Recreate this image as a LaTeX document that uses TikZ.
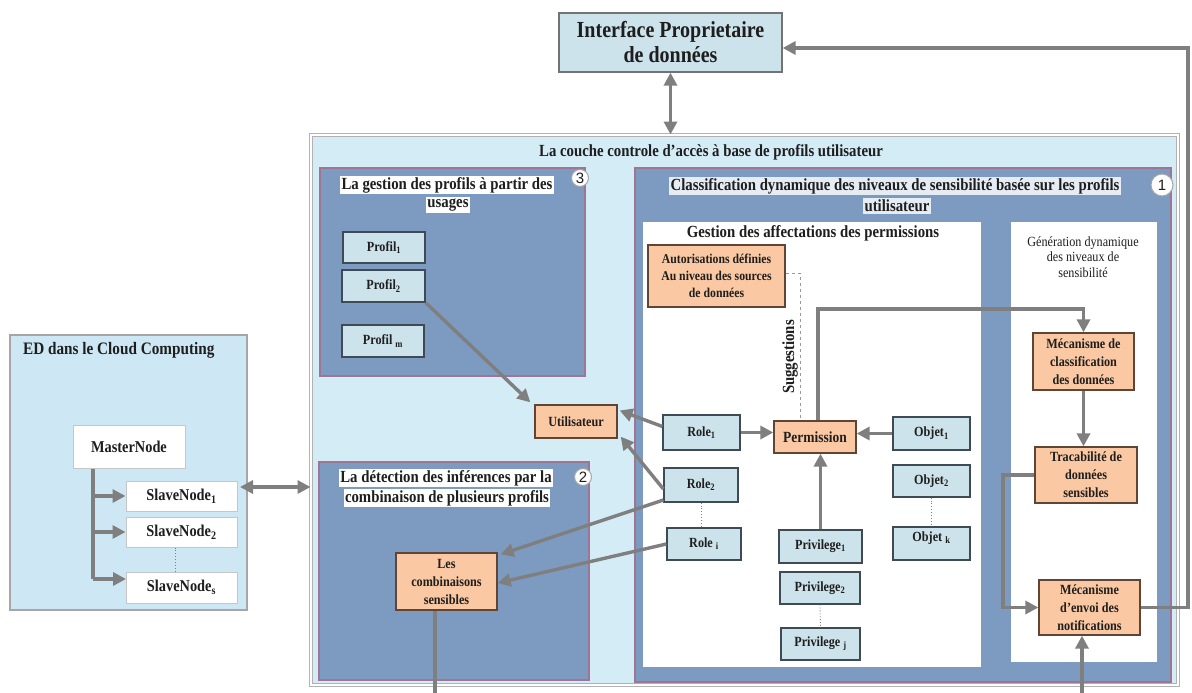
\documentclass[tikz,border=0pt]{standalone}
\usepackage{fontspec}
\setmainfont{Liberation Serif}[FakeStretch=0.87]
\newfontfamily\numfont{Liberation Sans}
\usetikzlibrary{arrows.meta,calc}
\definecolor{outerfill}{HTML}{D3ECF6}
\definecolor{edfill}{HTML}{CDE8F4}
\definecolor{panelfill}{HTML}{7D9BC1}
\definecolor{panelborder}{HTML}{9E7592}
\definecolor{lbfill}{HTML}{CDE3EB}
\definecolor{lbdraw}{HTML}{3E4B55}
\definecolor{obfill}{HTML}{FAC8A2}
\definecolor{obdraw}{HTML}{5E4535}
\definecolor{arrgray}{HTML}{7F7F7F}
\definecolor{hlgray}{HTML}{E6ECF3}
\definecolor{txt}{HTML}{1E1E1E}
\begin{document}
\begin{tikzpicture}[x=1pt,y=-1pt,
  lbox/.style={draw=lbdraw, fill=lbfill, line width=1.3pt, inner sep=0pt, text=txt, font=\bfseries\fontsize{14}{16}\selectfont},
  obox/.style={draw=obdraw, fill=obfill, line width=1.3pt, inner sep=0pt, align=center, text=txt, font=\bfseries\fontsize{14}{18}\selectfont},
  wbox/.style={draw=gray!45, fill=white, line width=1pt, inner sep=0pt, text=txt, font=\bfseries\fontsize{16.5}{18}\selectfont},
  panel/.style={draw=panelborder, fill=panelfill, line width=1.5pt, inner sep=0pt},
  wpanel/.style={fill=white, draw=none, inner sep=0pt},
  arr/.style={draw=arrgray, line width=3.4pt, -{Triangle[length=13pt,width=13pt]}},
  darr/.style={draw=arrgray, line width=3.4pt, {Triangle[length=13pt,width=13pt]}-{Triangle[length=13pt,width=13pt]}},
  conn/.style={draw=arrgray, line width=3.4pt},
  dots/.style={draw=gray, line width=0.9pt, dotted},
  circ/.style={circle, draw=gray!70, fill=white, line width=1pt, inner sep=0pt, text=txt, font=\numfont\fontsize{15}{15}\selectfont},
  hl/.style={fill=white, inner sep=1.5pt, text=txt, font=\bfseries\fontsize{17}{19}\selectfont},
  title/.style={inner sep=0pt, text=txt, font=\bfseries\fontsize{17}{19}\selectfont}]
\useasboundingbox (0,0) rectangle (1192,693);

% top interface
\node[draw=gray!90!black, fill=lbfill, line width=1.3pt, minimum width=223, minimum height=59, align=center, inner sep=0pt, text=txt,
      font=\bfseries\fontsize{23}{25}\selectfont] (iface) at (670.5,42.5) {Interface Proprietaire\\de donn\'ees};

% outer layer
\node[draw=gray!60, double=white, double distance=1.5pt, line width=1pt, fill=outerfill, minimum width=867, minimum height=550, inner sep=0pt] (outer) at (744.5,410) {};
\node[title] (outt) at (711,152) {La couche controle d'acc\`es \`a base de profils utilisateur};

% ED box
\node[draw=gray!70, fill=edfill, line width=1.2pt, minimum width=237, minimum height=275, inner sep=0pt] (ed) at (128.5,472.5) {};
\node[title, anchor=west, font=\bfseries\fontsize{17.5}{19}\selectfont] (edt) at (23,350) {ED dans le Cloud Computing};
\node[wbox, minimum width=112, minimum height=43] (master) at (129,446.5) {MasterNode};
\node[wbox, minimum width=111, minimum height=30] (s1) at (181.5,496) {SlaveNode\textsubscript{1}};
\node[wbox, minimum width=111, minimum height=30] (s2) at (181.5,532) {SlaveNode\textsubscript{2}};
\node[wbox, minimum width=111, minimum height=31] (ss) at (181.5,587.5) {SlaveNode\textsubscript{s}};

% box 3
\node[panel, minimum width=265, minimum height=208] (box3) at (452.5,272) {};
\node[hl] (b3t1) at (447,185) {La gestion des profils \`a partir des};
\node[hl] (b3t2) at (448,205) {usages};
\node[circ, minimum size=17] (c3) at (580,178) {3};
\node[lbox, minimum width=82, minimum height=31] (p1) at (384,247.5) {Profil\textsubscript{1}};
\node[lbox, minimum width=83, minimum height=32] (p2) at (383.5,286) {Profil\textsubscript{2}};
\node[lbox, minimum width=82, minimum height=32] (pm) at (383,341) {Profil \textsubscript{m}};

% box 2
\node[panel, minimum width=270, minimum height=218] (box2) at (454,571) {};
\node[hl] (b2t1) at (446,478) {La d\'etection des inf\'erences par la};
\node[hl] (b2t2) at (447,498) {combinaison de plusieurs profils};
\node[circ, minimum size=17] (c2) at (583,477) {2};
\node[obox, minimum width=101, minimum height=57] (comb) at (446.5,581.5) {Les\\combinaisons\\sensibles};

% utilisateur
\node[obox, minimum width=82, minimum height=33] (util) at (576,421.5) {Utilisateur};

% box 1
\node[panel, minimum width=536, minimum height=514] (box1) at (903,425) {};
\node[hl, fill=hlgray] (b1t1) at (895,186) {Classification dynamique des niveaux de sensibilit\'e bas\'ee sur les profils};
\node[hl, fill=hlgray] (b1t2) at (897,206) {utilisateur};
\node[circ, minimum size=22] (c1) at (1162,185) {1};
\node[wpanel, minimum width=338, minimum height=445] (wp1) at (812,444.5) {};
\node[wpanel, minimum width=146, minimum height=440] (wp2) at (1084,442) {};
\node[title] (wp1t) at (813,233) {Gestion des affectations des permissions};
\node[align=center, inner sep=0pt, text=txt, font=\fontsize{14}{15.5}\selectfont] (wp2t) at (1083,257) {G\'en\'eration dynamique\\des niveaux de\\sensibilit\'e};

\node[obox, minimum width=137, minimum height=62, font=\bfseries\fontsize{13.5}{17}\selectfont] (auto) at (716.5,276) {Autorisations d\'efinies\\Au niveau des sources\\de donn\'ees};
\node[lbox, minimum width=77, minimum height=35] (role1) at (701.5,432.5) {Role\textsubscript{1}};
\node[lbox, minimum width=74, minimum height=34] (role2) at (701,485) {Role\textsubscript{2}};
\node[lbox, minimum width=74, minimum height=32] (rolei) at (704,544) {Role \textsubscript{i}};
\node[obox, minimum width=82, minimum height=32, font=\bfseries\fontsize{15.5}{17}\selectfont] (perm) at (815,437) {Permission};
\node[lbox, minimum width=77, minimum height=33] (obj1) at (931.5,433.5) {Objet\textsubscript{1}};
\node[lbox, minimum width=77, minimum height=32] (obj2) at (931.5,481) {Objet\textsubscript{2}};
\node[lbox, minimum width=77, minimum height=33] (objk) at (931.5,543.5) {};
\node[inner sep=0pt, text=txt, font=\bfseries\fontsize{14}{16}\selectfont] (objkt) at (931.5,538) {Objet \textsubscript{k}};
\node[lbox, minimum width=83, minimum height=33] (priv1) at (820.5,546.5) {Privilege\textsubscript{1}};
\node[lbox, minimum width=80, minimum height=32] (priv2) at (820,588) {Privilege\textsubscript{2}};
\node[lbox, minimum width=79, minimum height=32] (privj) at (820.5,644) {Privilege \textsubscript{j}};

\node[obox, minimum width=101, minimum height=57] (classif) at (1083.5,361.5) {M\'ecanisme de\\classification\\des donn\'ees};
\node[obox, minimum width=102, minimum height=56] (trac) at (1086,475) {Tracabilit\'e de\\donn\'ees\\sensibles};
\node[obox, minimum width=101, minimum height=55] (notif) at (1089.5,607.5) {M\'ecanisme\\d'envoi des\\notifications};

% coordinates
\coordinate (rc) at (1188,48);
\coordinate (mx) at (93,0);
\coordinate (ssa) at (126,579);
\coordinate (sa) at (240,487);
\coordinate (pk) at (818,309);
\coordinate (tl) at (1003,0);
\coordinate (b1) at (435,693);
\coordinate (b2) at (1082,693);
\coordinate (sg) at (800,273);
\coordinate (sdx) at (175,0);

% connectors
\draw[darr] (iface.south) -- (iface.south |- outer.north);
\draw[arr] (notif.east) -| (rc) -- (rc -| iface.east);
\draw[darr] (sa) -- (sa -| outer.west);
\draw[conn] (master.south -| mx) -- (ssa -| mx);
\draw[arr] (s1.west -| mx) -- (s1.west);
\draw[arr] (s2.west -| mx) -- (s2.west);
\draw[arr] (ssa -| mx) -- (ssa);
\draw[dots] (s2.south -| sdx) -- (ss.north -| sdx);

\draw[arr] (p2.south east) -- ($(util.north west)+(-4,-2)$);
\draw[arr] ($(role1.west)+(0,-6)$) -- ($(util.east)+(2,-11)$);
\draw[arr] ($(role2.west)+(0,4)$) -- ($(util.south east)+(3,-2)$);
\draw[arr] ($(role2.west)+(0,15)$) -- ($(comb.north east)+(3,2)$);
\draw[arr] (rolei.west) -- ($(comb.east)+(0,1.5)$);

\draw[arr] (role1.east) -- (role1.east -| perm.west);
\draw[arr] (obj1.west) -- (obj1.west -| perm.east);
\draw[arr] (priv1.north) -- (priv1.north |- perm.south);
\draw[arr] (perm.north -| pk) -- (pk) -| (classif.north);
\draw[arr] (classif.south) -- (classif.south |- trac.north);
\draw[arr] (trac.west) -- (trac.west -| tl) -- (tl |- notif.west) -- (notif.west);
\draw[arr] (b2) -- (b2 |- notif.south);
\draw[conn] (comb.south -| b1) -- (b1);

\draw[dots] (role2.south) -- (role2.south |- rolei.north);
\draw[dots] (obj2.south) -- (objk.north);
\draw[dots] (priv2.south) -- (privj.north);
\draw[draw=gray!80, line width=0.9pt, dashed] (auto.east |- sg) -- (sg) -- (sg |- perm.north);
\node[rotate=90, inner sep=0pt, text=txt, font=\bfseries\fontsize{17}{19}\selectfont] (sugg) at (790,357) {Suggestions};
\end{tikzpicture}
\end{document}
